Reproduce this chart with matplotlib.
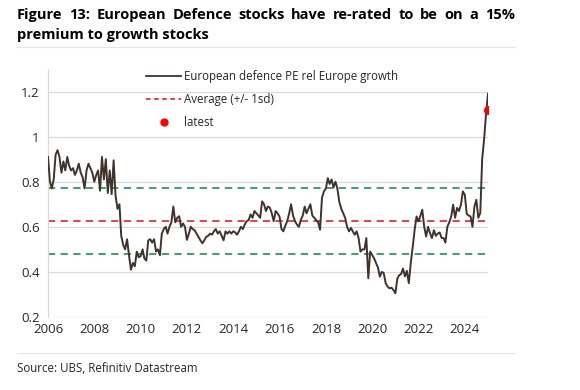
import numpy as np
import pandas as pd
import matplotlib
matplotlib.use('Agg')
import matplotlib.pyplot as plt
import matplotlib.dates as mdates
from matplotlib.lines import Line2D

plt.rcParams['font.family'] = ['Open Sans', 'DejaVu Sans']

# Monthly series, Jan 2006 - Jan 2025
dates = pd.date_range('2006-01-01', periods=229, freq='MS')
pe_rel = [
    0.91, 0.80, 0.77, 0.81, 0.92, 0.94, 0.91, 0.84, 0.89, 0.85, 0.91, 0.87,
    0.85, 0.86, 0.83, 0.85, 0.88, 0.84, 0.82, 0.77, 0.85, 0.88, 0.86, 0.84,
    0.80, 0.83, 0.85, 0.76, 0.91, 0.81, 0.90, 0.75, 0.85, 0.745, 0.895, 0.74,
    0.68, 0.70, 0.56, 0.52, 0.50, 0.545, 0.475, 0.41, 0.44, 0.425, 0.49, 0.465,
    0.47, 0.50, 0.46, 0.45, 0.54, 0.545, 0.53, 0.545, 0.49, 0.50, 0.474, 0.57,
    0.59, 0.60, 0.57, 0.60, 0.62, 0.69, 0.62, 0.64, 0.647, 0.60, 0.615, 0.60,
    0.542, 0.57, 0.60, 0.59, 0.585, 0.57, 0.556, 0.54, 0.527, 0.54, 0.556, 0.56,
    0.57, 0.565, 0.58, 0.59, 0.57, 0.58, 0.56, 0.54, 0.58, 0.57, 0.58, 0.57,
    0.58, 0.575, 0.565, 0.58, 0.60, 0.59, 0.61, 0.625, 0.63, 0.655, 0.64, 0.67,
    0.66, 0.65, 0.64, 0.713, 0.70, 0.67, 0.69, 0.685, 0.66, 0.625, 0.67, 0.66,
    0.645, 0.59, 0.58, 0.605, 0.625, 0.66, 0.70, 0.65, 0.625, 0.61, 0.60, 0.63,
    0.65, 0.69, 0.66, 0.68, 0.70, 0.65, 0.64, 0.63, 0.62, 0.587, 0.73, 0.757,
    0.77, 0.816, 0.79, 0.81, 0.775, 0.80, 0.77, 0.71, 0.68, 0.66, 0.64, 0.60,
    0.58, 0.595, 0.58, 0.565, 0.58, 0.55, 0.49, 0.50, 0.50, 0.55, 0.372, 0.49,
    0.475, 0.46, 0.44, 0.42, 0.379, 0.40, 0.395, 0.35, 0.335, 0.327, 0.33, 0.32,
    0.305, 0.37, 0.385, 0.39, 0.415, 0.38, 0.405, 0.35, 0.44, 0.51, 0.587, 0.646,
    0.624, 0.65, 0.676, 0.60, 0.557, 0.60, 0.572, 0.55, 0.585, 0.56, 0.57, 0.575,
    0.55, 0.55, 0.53, 0.60, 0.62, 0.646, 0.698, 0.64, 0.684, 0.67, 0.698, 0.757,
    0.742, 0.657, 0.65, 0.646, 0.60, 0.69, 0.72, 0.64, 0.661, 0.90, 0.99, 1.10,
    1.19,
]
latest_date = dates[-1]
latest_value = 1.12
avg = 0.627
sd = 0.146

title_line1 = "Figure 13: European Defence stocks have re-rated to be on a 15%"
title_line2 = "premium to growth stocks"
source = "Source: UBS, Refinitiv Datastream"

line_col = '#40332c'
red = '#e8303a'
green = '#2e9a5c'
grid_col = '#d9d9d9'
text_col = '#262626'

fig = plt.figure(figsize=(5.8, 3.9), dpi=100)
ax = fig.add_axes([48/580, 1 - 317/390, 440/580, 248/390])

ax.plot(dates, pe_rel, color=line_col, lw=1.4, zorder=3)
ax.axhline(avg, color=red, lw=1.3, ls=(0, (4, 3)), zorder=2)
ax.axhline(avg + sd, color=green, lw=1.3, ls=(0, (4, 3)), zorder=2)
ax.axhline(avg - sd, color=green, lw=1.3, ls=(0, (4, 3)), zorder=2)
ax.plot([latest_date], [latest_value], 'o', color='#ff0000', ms=5.5, zorder=4)

ax.set_xlim(dates[0], dates[-1])
ax.set_ylim(0.2, 1.3)
ax.set_yticks([0.2, 0.4, 0.6, 0.8, 1.0, 1.2])
ax.set_yticklabels(['0.2', '0.4', '0.6', '0.8', '1', '1.2'])
ax.xaxis.set_major_locator(mdates.YearLocator(2))
ax.xaxis.set_major_formatter(mdates.DateFormatter('%Y'))
ax.grid(axis='y', color=grid_col, lw=0.9)
ax.tick_params(length=0, labelsize=9.5, colors=text_col, pad=6)
ax.tick_params(axis='x', pad=4)
for s in ['top', 'right', 'bottom']:
    ax.spines[s].set_visible(False)
ax.spines['left'].set_color(grid_col)

handles = [
    Line2D([], [], color=line_col, lw=1.3),
    Line2D([], [], color=red, lw=1.3, ls=(0, (2.5, 2))),
    Line2D([], [], color='#ff0000', marker='o', ls='none', ms=5),
]
labels = ['European defence PE rel Europe growth', 'Average (+/- 1sd)', 'latest']
ax.legend(handles, labels, loc='upper left', bbox_to_anchor=(136/580, 1 - 60/390),
          bbox_transform=fig.transFigure, frameon=False, fontsize=8.3,
          handlelength=3.0, handletextpad=0.3, labelspacing=0.85,
          labelcolor=text_col)

# title, first line justified to the rule width
renderer = fig.canvas.get_renderer()
x0, x1 = 17, 515
words = title_line1.split(' ')
arts = [fig.text(0, 1 - 15/390, w, fontsize=10.5, fontweight='bold', va='center',
                 color='black') for w in words]
widths = [a.get_window_extent(renderer).width for a in arts]
gap = (x1 - x0 - sum(widths)) / (len(words) - 1)
pos = x0
for a, w in zip(arts, widths):
    a.set_x(pos / 580)
    pos += w + gap
fig.text(x0/580, 1 - 35/390, title_line2, fontsize=10.5, fontweight='bold',
         va='center', color='black')

fig.add_artist(Line2D([x0/580, x1/580], [1 - 47/390, 1 - 47/390], color='#e6e6e6', lw=0.8))
fig.add_artist(Line2D([x0/580, x1/580], [1 - 353/390, 1 - 353/390], color='#e6e6e6', lw=0.8))
fig.text(x0/580, 1 - 368/390, source, fontsize=8.3, va='center', color=text_col)

fig.savefig('out.png', dpi=100)
